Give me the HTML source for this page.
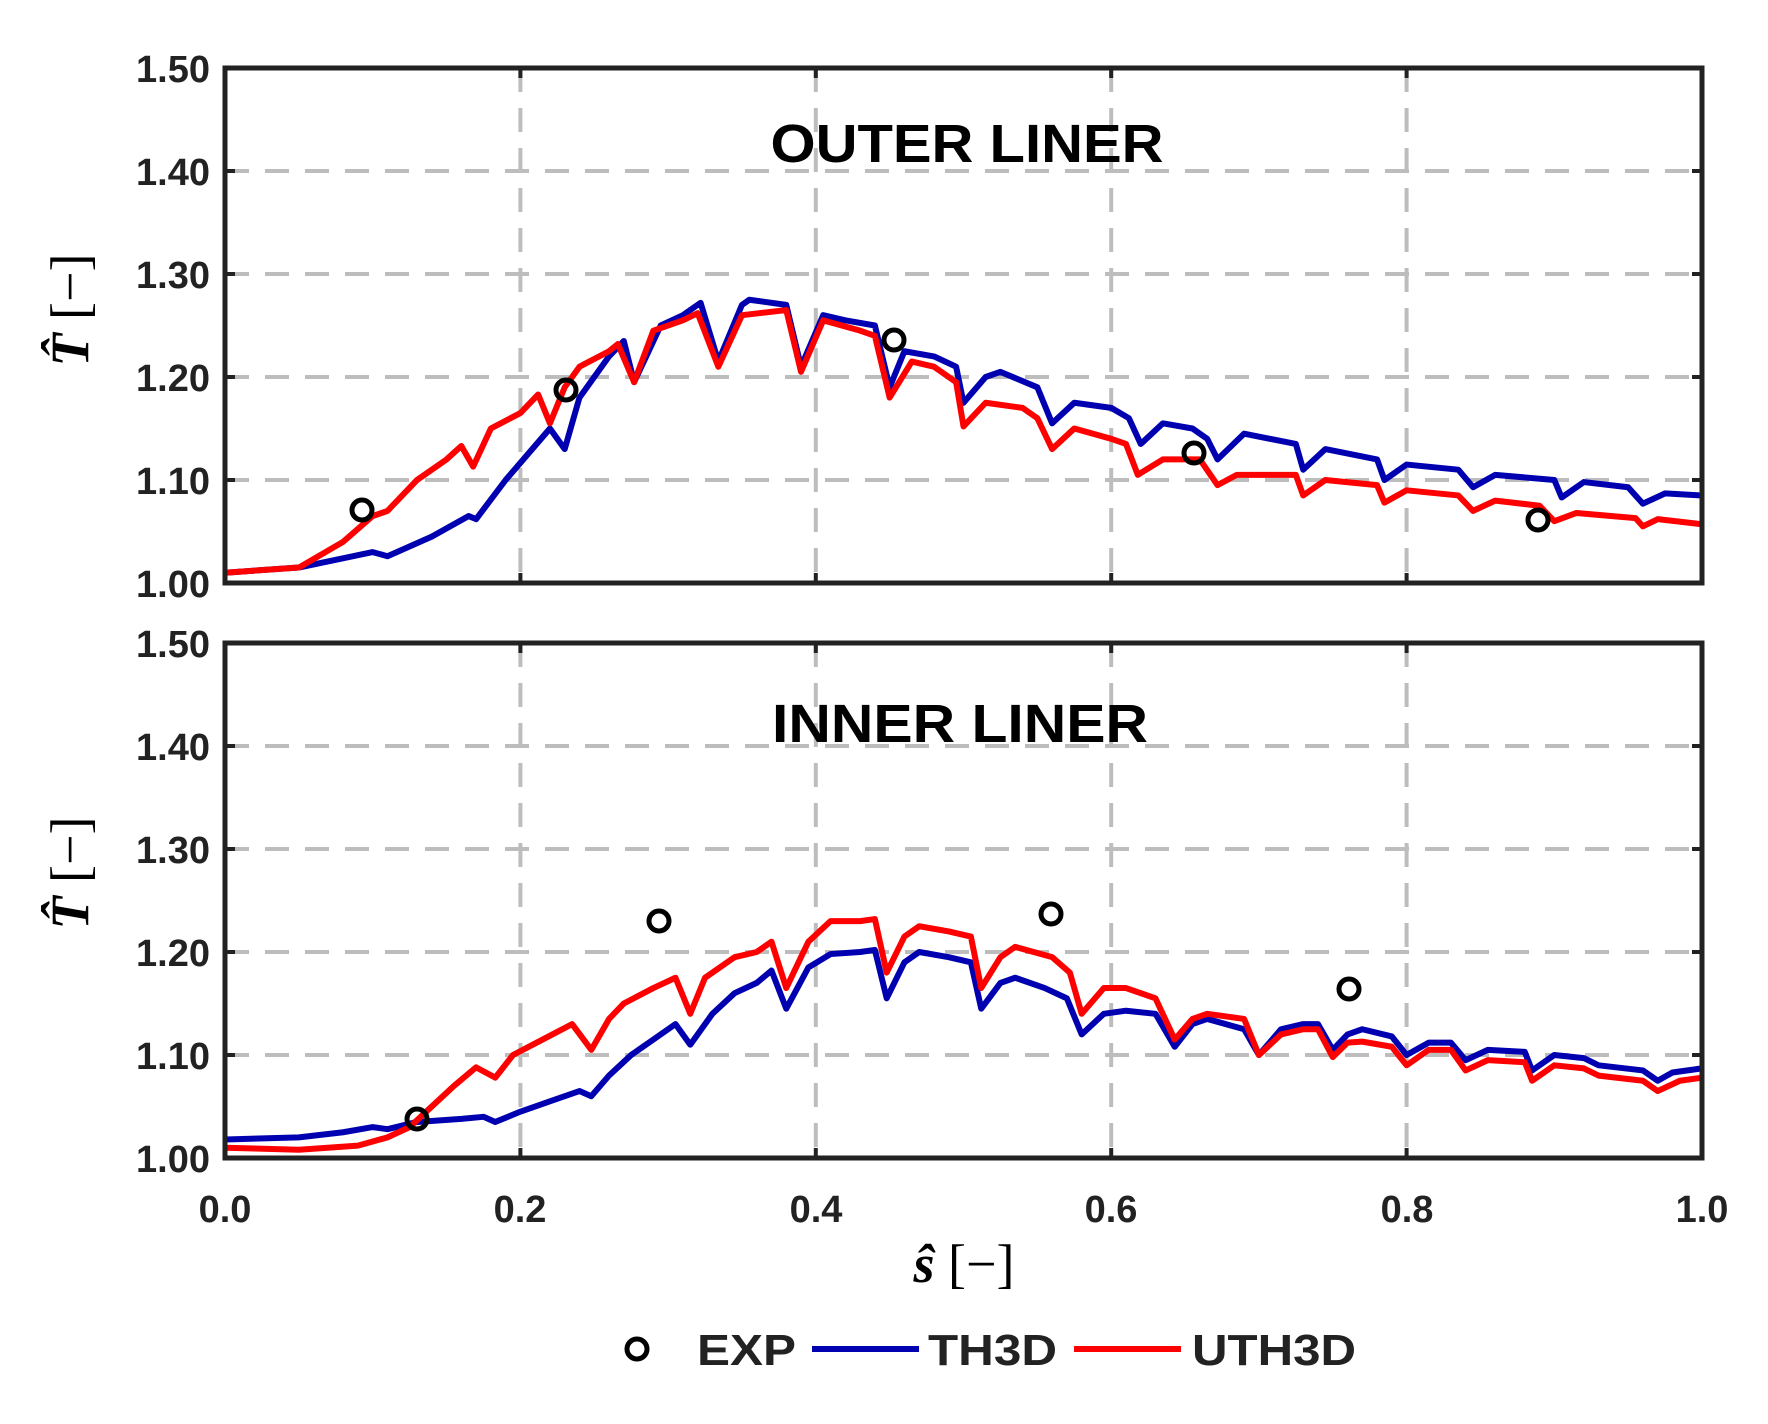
<!DOCTYPE html>
<html><head><meta charset="utf-8"><style>body{margin:0;background:#fff}svg{display:block}</style></head><body>
<svg width="1768" height="1424" viewBox="0 0 1768 1424" xmlns="http://www.w3.org/2000/svg" font-family="Liberation Sans, Arial, sans-serif" font-weight="bold">
<g stroke="#bdbdbd" stroke-width="4" stroke-dasharray="24 16" fill="none">
<path d="M520.4 68V583M815.8 68V583M1111.2 68V583M1406.6 68V583M225 480H1702M225 377H1702M225 274H1702M225 171H1702"/>
<path d="M520.4 643V1158M815.8 643V1158M1111.2 643V1158M1406.6 643V1158M225 1055H1702M225 952H1702M225 849H1702M225 746H1702"/>
</g>
<g fill="none" stroke-linejoin="round">
<g transform="translate(225,583) scale(1477,-1030)">
<polyline vector-effect="non-scaling-stroke" stroke="#0000b0" stroke-width="6" points="0,.01 .05,.015 .1,.03 .11,.026 .14,.045 .165,.065 .17,.062 .19,.1 .22,.15 .23,.13 .24,.18 .26,.22 .27,.235 .277,.195 .295,.25 .31,.26 .322,.272 .334,.215 .35,.27 .355,.275 .38,.27 .39,.21 .405,.26 .42,.255 .44,.25 .45,.19 .46,.225 .48,.22 .495,.21 .5,.175 .515,.2 .525,.205 .55,.19 .56,.155 .575,.175 .6,.17 .612,.16 .62,.135 .635,.155 .655,.15 .665,.14 .672,.12 .69,.145 .725,.135 .73,.11 .745,.13 .78,.12 .785,.1 .8,.115 .835,.11 .845,.093 .86,.105 .9,.1 .905,.083 .92,.098 .95,.093 .96,.077 .975,.087 1,.085"/>
<polyline vector-effect="non-scaling-stroke" stroke="#ff0000" stroke-width="6" points="0,.01 .05,.015 .08,.04 .1,.065 .11,.07 .13,.1 .15,.12 .16,.133 .168,.113 .18,.15 .2,.165 .212,.183 .22,.155 .23,.19 .24,.21 .26,.225 .266,.232 .277,.195 .29,.245 .31,.255 .32,.262 .334,.21 .35,.26 .38,.265 .39,.205 .405,.255 .43,.245 .44,.24 .45,.18 .465,.215 .48,.21 .495,.195 .5,.152 .515,.175 .54,.17 .55,.16 .56,.13 .575,.15 .6,.14 .61,.135 .618,.105 .635,.12 .66,.12 .672,.095 .685,.105 .725,.105 .73,.085 .745,.1 .78,.095 .785,.078 .8,.09 .835,.085 .845,.07 .86,.08 .89,.075 .9,.06 .915,.068 .955,.063 .96,.055 .97,.062 1,.057"/>
</g>
<g transform="translate(225,1158) scale(1477,-1030)">
<polyline vector-effect="non-scaling-stroke" stroke="#0000b0" stroke-width="6" points="0,.018 .05,.02 .08,.025 .1,.03 .11,.028 .13,.035 .16,.038 .175,.04 .183,.035 .2,.045 .22,.055 .24,.065 .248,.06 .26,.08 .275,.1 .29,.115 .305,.13 .315,.11 .33,.14 .345,.16 .36,.17 .37,.182 .38,.145 .395,.185 .41,.198 .43,.2 .44,.202 .448,.155 .46,.19 .47,.2 .49,.195 .505,.19 .512,.145 .525,.17 .535,.175 .555,.165 .57,.155 .58,.12 .595,.14 .61,.143 .63,.14 .643,.108 .655,.13 .665,.135 .69,.125 .7,.1 .715,.125 .73,.13 .74,.13 .75,.105 .76,.12 .77,.125 .79,.118 .8,.1 .815,.112 .83,.112 .84,.095 .855,.105 .88,.103 .885,.085 .9,.1 .92,.097 .93,.09 .96,.085 .97,.075 .98,.083 1,.087"/>
<polyline vector-effect="non-scaling-stroke" stroke="#ff0000" stroke-width="6" points="0,.01 .05,.008 .09,.012 .11,.02 .125,.03 .14,.05 .155,.07 .17,.088 .183,.078 .195,.1 .215,.115 .235,.13 .248,.105 .26,.135 .27,.15 .29,.165 .305,.175 .315,.14 .325,.175 .345,.195 .36,.2 .37,.21 .38,.165 .395,.21 .41,.23 .43,.23 .44,.232 .448,.18 .46,.215 .47,.225 .49,.22 .505,.215 .512,.165 .525,.195 .535,.205 .56,.195 .572,.18 .58,.14 .595,.165 .61,.165 .63,.155 .643,.115 .655,.135 .665,.14 .69,.135 .7,.1 .715,.12 .73,.125 .74,.125 .75,.098 .76,.112 .77,.113 .79,.108 .8,.09 .815,.105 .83,.105 .84,.085 .855,.095 .88,.093 .885,.075 .9,.09 .92,.087 .93,.08 .96,.075 .97,.065 .985,.075 1,.078"/>
</g>
</g>
<g fill="none" stroke="#000" stroke-width="5">
<circle cx="362" cy="510" r="10"/><circle cx="566" cy="390" r="10"/><circle cx="894" cy="340" r="10"/><circle cx="1194" cy="453" r="10"/><circle cx="1538" cy="520" r="10"/>
<circle cx="417" cy="1119" r="10"/><circle cx="659" cy="921" r="10"/><circle cx="1051" cy="914" r="10"/><circle cx="1349" cy="989" r="10"/>
<circle cx="637" cy="1349" r="10"/>
</g>
<g fill="none" stroke="#222" stroke-width="5">
<rect x="225" y="68" width="1477" height="515"/>
<rect x="225" y="643" width="1477" height="515"/>
</g>
<g stroke="#222" stroke-width="4">
<path d="M225 480h10M225 377h10M225 274h10M225 171h10M1702 480h-10M1702 377h-10M1702 274h-10M1702 171h-10M225 1055h10M225 952h10M225 849h10M225 746h10M1702 1055h-10M1702 952h-10M1702 849h-10M1702 746h-10"/>
<path d="M520.4 583v-10M815.8 583v-10M1111.2 583v-10M1406.6 583v-10M520.4 68v10M815.8 68v10M1111.2 68v10M1406.6 68v10M520.4 1158v-10M815.8 1158v-10M1111.2 1158v-10M1406.6 1158v-10M520.4 643v10M815.8 643v10M1111.2 643v10M1406.6 643v10"/>
</g>
<g font-size="38" fill="#222" text-anchor="end">
<text x="210" y="82">1.50</text><text x="210" y="185">1.40</text><text x="210" y="288">1.30</text><text x="210" y="391">1.20</text><text x="210" y="494">1.10</text><text x="210" y="597">1.00</text>
<text x="210" y="657">1.50</text><text x="210" y="760">1.40</text><text x="210" y="863">1.30</text><text x="210" y="966">1.20</text><text x="210" y="1069">1.10</text><text x="210" y="1172">1.00</text>
</g>
<g font-size="38" fill="#222" text-anchor="middle">
<text x="225" y="1222">0.0</text><text x="520" y="1222">0.2</text><text x="816" y="1222">0.4</text><text x="1111" y="1222">0.6</text><text x="1407" y="1222">0.8</text><text x="1702" y="1222">1.0</text>
</g>
<text x="967" y="162" font-size="54" text-anchor="middle" textLength="393" lengthAdjust="spacingAndGlyphs" fill="#000">OUTER LINER</text>
<text x="960" y="742" font-size="54" text-anchor="middle" textLength="376" lengthAdjust="spacingAndGlyphs" fill="#000">INNER LINER</text>
<text x="964" y="1282" font-size="54" text-anchor="middle" font-family="Liberation Serif, serif" fill="#000"><tspan font-style="italic">ŝ</tspan><tspan font-weight="normal"> [−]</tspan></text>
<text transform="translate(88,310) rotate(-90)" font-size="54" text-anchor="middle" font-family="Liberation Serif, serif" fill="#000"><tspan font-style="italic">T̂</tspan><tspan font-weight="normal"> [−]</tspan></text>
<text transform="translate(88,873) rotate(-90)" font-size="54" text-anchor="middle" font-family="Liberation Serif, serif" fill="#000"><tspan font-style="italic">T̂</tspan><tspan font-weight="normal"> [−]</tspan></text>
<path d="M812 1349H919" stroke="#0000b0" stroke-width="6"/>
<path d="M1074 1349H1181" stroke="#ff0000" stroke-width="6"/>
<g font-size="44" fill="#222">
<text x="697" y="1365" textLength="99" lengthAdjust="spacingAndGlyphs">EXP</text>
<text x="928" y="1365" textLength="129" lengthAdjust="spacingAndGlyphs">TH3D</text>
<text x="1192" y="1365" textLength="164" lengthAdjust="spacingAndGlyphs">UTH3D</text>
</g>
</svg>
</body></html>
